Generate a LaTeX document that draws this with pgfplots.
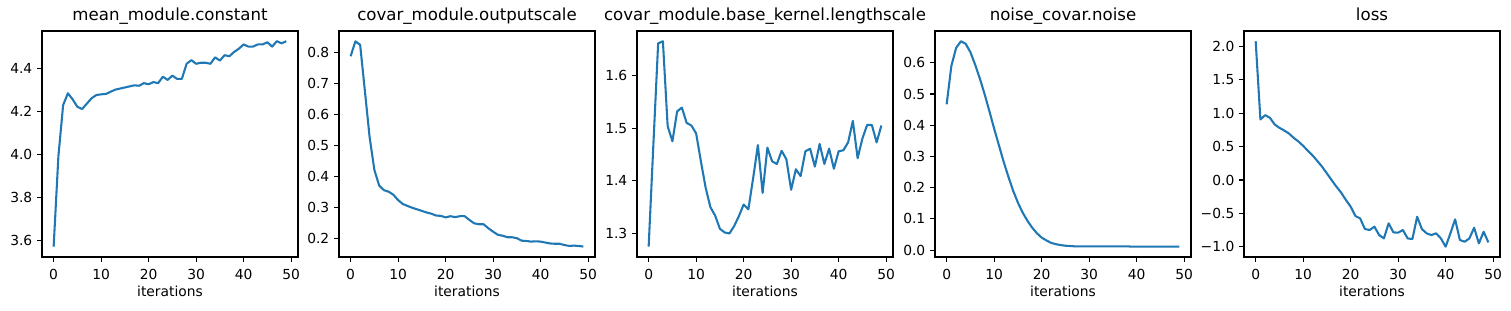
\documentclass[border=0pt]{standalone}
\usepackage{pgfplots}
\pgfplotsset{compat=1.18}
\usepackage{fontspec}
\setmainfont{DejaVu Sans}
\definecolor{mplblue}{HTML}{1F77B4}
\pgfplotsset{
  mpl/.style={
    scale only axis, width=184.3bp, height=162.7bp,
    anchor=south west,
    axis line style={line width=0.8pt},
    every tick/.style={black, line width=0.8pt},
    major tick length=3.5pt,
    tick align=outside,
    xtick pos=bottom, ytick pos=left,
    xmin=-2.45, xmax=51.45,
    xtick={0,10,20,30,40,50},
    /pgf/number format/assume math mode=true,
    tick label style={font=\fontsize{10}{12}\selectfont},
    xticklabel style={anchor=base, yshift=-13.1bp},
    label style={font=\fontsize{10}{12}\selectfont},
    every axis title/.style={font=\fontsize{12}{14}\selectfont, at={(0.5,1)}, anchor=base, yshift=7.2bp, inner sep=0pt},
    xlabel={iterations},
    xlabel style={at={(axis description cs:0.5,0)}, anchor=base, yshift=-28.8bp, inner sep=0pt},
    no markers,
    every axis plot post/.append style={mplblue, line width=1.5pt, line join=round, mark=none},
  }
}
\begin{document}
\begin{tikzpicture}
\path[use as bounding box] (0,0) rectangle (1087.9bp,223.9bp);
% Panel 1
\begin{axis}[mpl, at={(30.24bp,38.9bp)}, title={mean\_module.constant},
  ymin=3.5225, ymax=4.5725, ytick={3.6,3.8,4.0,4.2,4.4},
  yticklabels={3.6,3.8,4.0,4.2,4.4}]
\addplot coordinates {(0,3.57)(1,3.99)(2,4.228)(3,4.283)(4,4.255)(5,4.22)(6,4.21)(7,4.235)(8,4.26)(9,4.275)(10,4.278)(11,4.28)(12,4.29)(13,4.30)(14,4.305)(15,4.31)(16,4.315)(17,4.32)(18,4.318)(19,4.33)(20,4.325)(21,4.335)(22,4.33)(23,4.36)(24,4.345)(25,4.365)(26,4.35)(27,4.35)(28,4.42)(29,4.437)(30,4.42)(31,4.425)(32,4.425)(33,4.42)(34,4.45)(35,4.435)(36,4.46)(37,4.455)(38,4.475)(39,4.49)(40,4.51)(41,4.50)(42,4.50)(43,4.51)(44,4.51)(45,4.52)(46,4.50)(47,4.525)(48,4.515)(49,4.525)};
\end{axis}
% Panel 2
\begin{axis}[mpl, at={(244.08bp,38.9bp)}, title={covar\_module.outputscale},
  ymin=0.1395, ymax=0.8685, ytick={0.2,0.3,0.4,0.5,0.6,0.7,0.8},
  yticklabels={0.2,0.3,0.4,0.5,0.6,0.7,0.8}]
\addplot coordinates {(0,0.787)(1,0.835)(2,0.824)(3,0.675)(4,0.525)(5,0.42)(6,0.37)(7,0.355)(8,0.35)(9,0.34)(10,0.323)(11,0.31)(12,0.304)(13,0.298)(14,0.293)(15,0.288)(16,0.283)(17,0.279)(18,0.273)(19,0.272)(20,0.267)(21,0.271)(22,0.268)(23,0.271)(24,0.271)(25,0.259)(26,0.248)(27,0.245)(28,0.245)(29,0.232)(30,0.221)(31,0.211)(32,0.208)(33,0.203)(34,0.203)(35,0.2)(36,0.192)(37,0.191)(38,0.189)(39,0.19)(40,0.189)(41,0.186)(42,0.183)(43,0.182)(44,0.182)(45,0.178)(46,0.175)(47,0.176)(48,0.175)(49,0.173)};
\end{axis}
% Panel 3
\begin{axis}[mpl, at={(458.64bp,38.9bp)}, title={covar\_module.base\_kernel.lengthscale},
  ymin=1.2555, ymax=1.6845, ytick={1.3,1.4,1.5,1.6},
  yticklabels={1.3,1.4,1.5,1.6}]
\addplot coordinates {(0,1.275)(1,1.47)(2,1.661)(3,1.665)(4,1.504)(5,1.475)(6,1.532)(7,1.539)(8,1.51)(9,1.505)(10,1.49)(11,1.437)(12,1.387)(13,1.35)(14,1.334)(15,1.309)(16,1.302)(17,1.30)(18,1.314)(19,1.333)(20,1.355)(21,1.346)(22,1.405)(23,1.468)(24,1.377)(25,1.463)(26,1.437)(27,1.432)(28,1.457)(29,1.441)(30,1.383)(31,1.422)(32,1.409)(33,1.456)(34,1.461)(35,1.427)(36,1.47)(37,1.432)(38,1.461)(39,1.423)(40,1.456)(41,1.458)(42,1.473)(43,1.514)(44,1.443)(45,1.48)(46,1.506)(47,1.506)(48,1.473)(49,1.505)};
\end{axis}
% Panel 4
\begin{axis}[mpl, at={(673.2bp,38.9bp)}, title={noise\_covar.noise},
  ymin=-0.022, ymax=0.702, ytick={0,0.1,0.2,0.3,0.4,0.5,0.6},
  yticklabels={0.0,0.1,0.2,0.3,0.4,0.5,0.6}]
\addplot coordinates {(0,0.467)(1,0.591)(2,0.648)(3,0.669)(4,0.661)(5,0.634)(6,0.594)(7,0.549)(8,0.499)(9,0.445)(10,0.389)(11,0.336)(12,0.283)(13,0.235)(14,0.19)(15,0.152)(16,0.12)(17,0.094)(18,0.072)(19,0.054)(20,0.04)(21,0.031)(22,0.023)(23,0.019)(24,0.016)(25,0.014)(26,0.013)(27,0.012)(28,0.012)(29,0.012)(30,0.012)(31,0.012)(32,0.012)(33,0.012)(34,0.012)(35,0.012)(36,0.012)(37,0.012)(38,0.012)(39,0.011)(40,0.011)(41,0.011)(42,0.011)(43,0.011)(44,0.011)(45,0.011)(46,0.011)(47,0.011)(48,0.011)(49,0.011)};
\end{axis}
% Panel 5
\begin{axis}[mpl, at={(895.68bp,38.9bp)}, title={loss},
  ymin=-1.154, ymax=2.234, ytick={-1,-0.5,0,0.5,1,1.5,2},
  yticklabels={−1.0,−0.5,0.0,0.5,1.0,1.5,2.0}]
\addplot coordinates {(0,2.08)(1,0.907)(2,0.972)(3,0.932)(4,0.832)(5,0.782)(6,0.742)(7,0.697)(8,0.632)(9,0.577)(10,0.512)(11,0.437)(12,0.367)(13,0.283)(14,0.198)(15,0.098)(16,-0.002)(17,-0.10)(18,-0.19)(19,-0.30)(20,-0.40)(21,-0.54)(22,-0.576)(23,-0.736)(24,-0.75)(25,-0.70)(26,-0.826)(27,-0.876)(28,-0.65)(29,-0.786)(30,-0.79)(31,-0.75)(32,-0.876)(33,-0.886)(34,-0.551)(35,-0.736)(36,-0.80)(37,-0.826)(38,-0.80)(39,-0.876)(40,-1.00)(41,-0.80)(42,-0.59)(43,-0.90)(44,-0.926)(45,-0.876)(46,-0.716)(47,-0.95)(48,-0.776)(49,-0.936)};
\end{axis}
\end{tikzpicture}
\end{document}
